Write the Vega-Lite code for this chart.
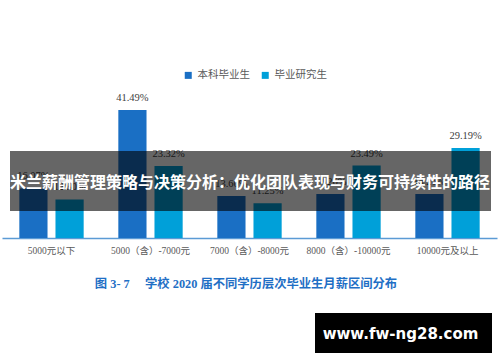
{
  "$schema": "https://vega.github.io/schema/vega-lite/v6.json",
  "width": 500,
  "height": 362,
  "padding": 0,
  "autosize": "none",
  "background": "white",
  "config": {"view": {"stroke": null}},
  "data": {
    "values": [
      {"cat": "5000元以下", "series": "本科毕业生", "value": 0.1607},
      {"cat": "5000元以下", "series": "毕业研究生", "value": 0.125},
      {"cat": "5000（含）-7000元", "series": "本科毕业生", "value": 0.4149},
      {"cat": "5000（含）-7000元", "series": "毕业研究生", "value": 0.2332},
      {"cat": "7000（含）-8000元", "series": "本科毕业生", "value": 0.136},
      {"cat": "7000（含）-8000元", "series": "毕业研究生", "value": 0.1125},
      {"cat": "8000（含）-10000元", "series": "本科毕业生", "value": 0.1426},
      {"cat": "8000（含）-10000元", "series": "毕业研究生", "value": 0.2349},
      {"cat": "10000元及以上", "series": "本科毕业生", "value": 0.1426},
      {"cat": "10000元及以上", "series": "毕业研究生", "value": 0.2919}
    ]
  },
  "layer": [
    {
      "encoding": {
        "x": {
          "field": "cat",
          "type": "nominal",
          "sort": ["5000元以下", "5000（含）-7000元", "7000（含）-8000元", "8000（含）-10000元", "10000元及以上"],
          "scale": {"range": [2, 497], "paddingInner": 0.35, "paddingOuter": 0.175},
          "axis": {
            "title": null,
            "orient": "bottom",
            "offset": -124,
            "ticks": false,
            "labelAngle": 0,
            "domainColor": "#5b9bd5",
            "domainWidth": 1.5,
            "labelFont": "Liberation Serif, Noto Sans CJK SC",
            "labelFontSize": 9.5,
            "labelColor": "#595959",
            "labelPadding": 7
          }
        },
        "xOffset": {
          "field": "series",
          "type": "nominal",
          "sort": ["本科毕业生", "毕业研究生"],
          "scale": {"paddingInner": 0.22, "paddingOuter": 0}
        },
        "y": {
          "field": "value",
          "type": "quantitative",
          "scale": {"domain": [-0.402, 0.7715], "nice": false, "zero": false},
          "axis": null
        }
      },
      "layer": [
        {
          "mark": {"type": "bar"},
          "encoding": {
            "y2": {"datum": 0},
            "color": {
              "field": "series",
              "type": "nominal",
              "scale": {"domain": ["本科毕业生", "毕业研究生"], "range": ["#1a6fc4", "#00a0d9"]},
              "legend": {
                "orient": "none",
                "legendX": 183,
                "legendY": 70,
                "direction": "horizontal",
                "title": null,
                "symbolType": "square",
                "symbolSize": 49,
                "symbolStrokeWidth": 0,
                "labelFont": "Noto Sans CJK SC",
                "labelFontSize": 10.5,
                "labelColor": "#595959",
                "labelOffset": 4,
                "columnPadding": 10,
                "padding": 0
              }
            }
          }
        },
        {
          "mark": {"type": "text", "baseline": "alphabetic", "dy": -9, "font": "Liberation Serif", "fontSize": 10.5, "color": "#404040"},
          "encoding": {
            "text": {"field": "value", "type": "quantitative", "format": ".2%"}
          }
        }
      ]
    },
    {
      "data": {"values": [{}]},
      "layer": [
        {
          "mark": {"type": "rect", "color": "black", "opacity": 0.6},
          "encoding": {
            "x": {"datum": 2, "type": "quantitative", "scale": {"domain": [0, 100], "nice": false}, "axis": null},
            "x2": {"datum": 98.2},
            "y": {"datum": 0.282},
            "y2": {"datum": 0.0875}
          }
        },
        {
          "mark": {"type": "text", "font": "Noto Sans CJK SC", "fontWeight": "bold", "fontSize": 16, "color": "white", "baseline": "middle", "align": "center"},
          "encoding": {
            "x": {"datum": 50, "type": "quantitative", "scale": {"domain": [0, 100], "nice": false}, "axis": null},
            "y": {"datum": 0.178},
            "text": {"value": "米兰薪酬管理策略与决策分析：优化团队表现与财务可持续性的路径"}
          }
        },
        {
          "mark": {"type": "text", "font": "Liberation Serif, Noto Sans CJK SC", "fontWeight": "bold", "fontSize": 12.3, "color": "#1f6fc5", "baseline": "middle", "align": "center"},
          "encoding": {
            "x": {"datum": 49.2, "type": "quantitative", "scale": {"domain": [0, 100], "nice": false}, "axis": null},
            "y": {"datum": -0.149},
            "text": {"value": "图 3- 7\u3000 学校 2020 届不同学历层次毕业生月薪区间分布"}
          }
        },
        {
          "mark": {"type": "rect", "color": "black"},
          "encoding": {
            "x": {"datum": 63, "type": "quantitative", "scale": {"domain": [0, 100], "nice": false}, "axis": null},
            "x2": {"datum": 98.4},
            "y": {"datum": -0.243},
            "y2": {"datum": -0.373}
          }
        },
        {
          "mark": {"type": "text", "font": "DejaVu Sans", "fontWeight": "bold", "fontSize": 15, "color": "white", "baseline": "middle", "align": "center"},
          "encoding": {
            "x": {"datum": 80.1, "type": "quantitative", "scale": {"domain": [0, 100], "nice": false}, "axis": null},
            "y": {"datum": -0.31},
            "text": {"value": "www.fw-ng28.com"}
          }
        }
      ]
    }
  ],
  "resolve": {"scale": {"x": "independent"}}
}
